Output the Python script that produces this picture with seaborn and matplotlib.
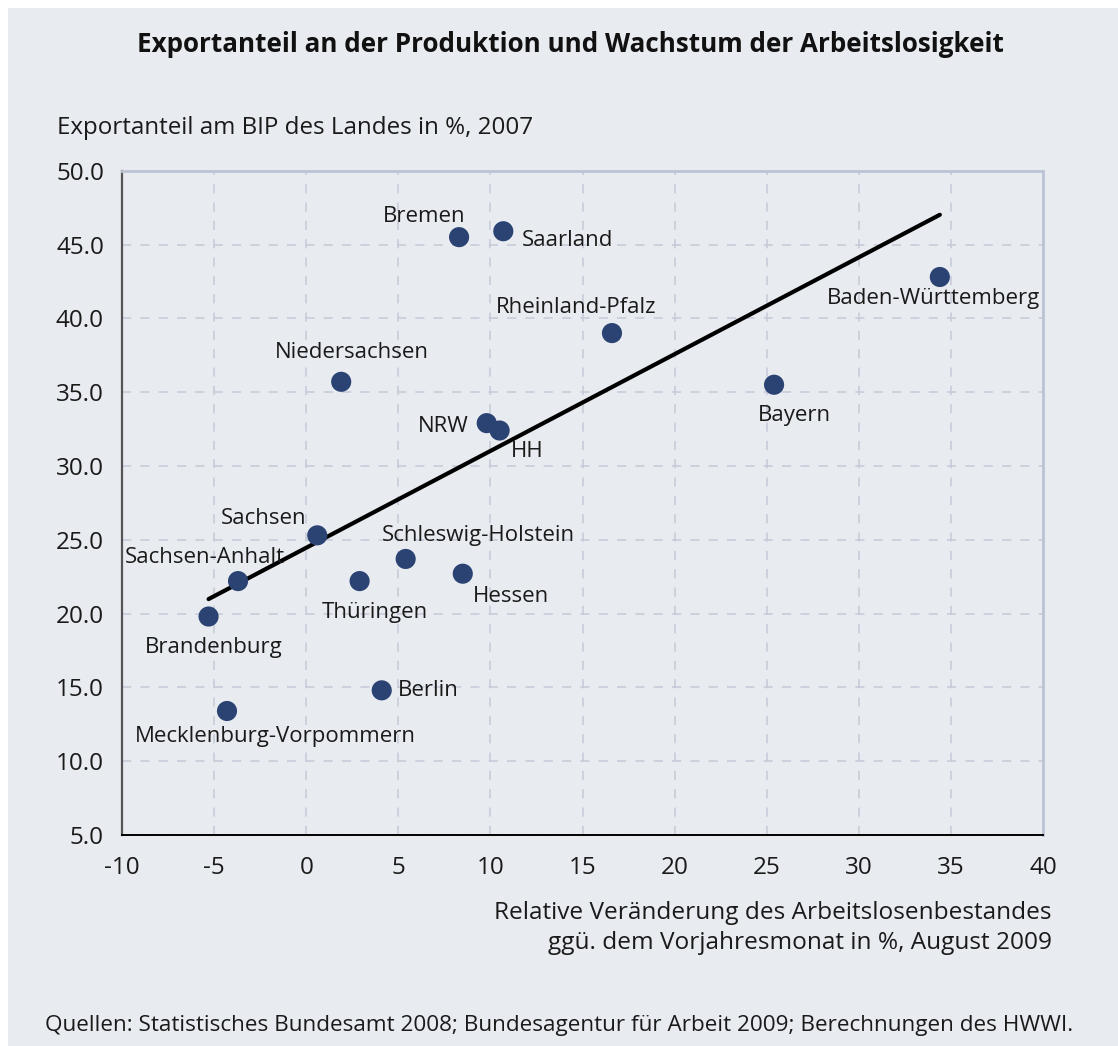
import numpy as np
import pandas as pd
import matplotlib
matplotlib.use("Agg")
import matplotlib.pyplot as plt
from matplotlib.patches import Rectangle
import seaborn as sns

# data
laender = ["Bremen", "Saarland", "Rheinland-Pfalz", "Baden-Württemberg",
           "Niedersachsen", "Bayern", "NRW", "HH", "Sachsen",
           "Schleswig-Holstein", "Hessen", "Sachsen-Anhalt", "Thüringen",
           "Brandenburg", "Berlin", "Mecklenburg-Vorpommern"]
arbeitslose = [8.3, 10.7, 16.6, 34.4, 1.9, 25.4, 9.8, 10.5, 0.6,
               5.4, 8.5, -3.7, 2.9, -5.3, 4.1, -4.3]
exportanteil = [45.5, 45.9, 39.0, 42.8, 35.7, 35.5, 32.9, 32.4, 25.3,
                23.7, 22.7, 22.2, 22.2, 19.8, 14.8, 13.4]

df = pd.DataFrame({"land": laender, "x": arbeitslose, "y": exportanteil})

# label offsets in pixels (dx, dy, ha)
label_pos = {
    "Bremen": (-35, 21, "center"),
    "Saarland": (19, -9, "left"),
    "Rheinland-Pfalz": (-36, 26, "center"),
    "Baden-Württemberg": (-6, -22, "center"),
    "Niedersachsen": (11, 29, "center"),
    "Bayern": (20, -31, "center"),
    "NRW": (-18, -3, "right"),
    "HH": (28, -21, "center"),
    "Sachsen": (-54, 17, "center"),
    "Schleswig-Holstein": (73, 23, "center"),
    "Hessen": (48, -23, "center"),
    "Sachsen-Anhalt": (-33, 24, "center"),
    "Thüringen": (15, -31, "center"),
    "Brandenburg": (5, -31, "center"),
    "Berlin": (16, 0, "left"),
    "Mecklenburg-Vorpommern": (48, -26, "center"),
}

bg = "#e8ebf0"
navy = "#2b4373"

sns.set_style("white")
plt.rcParams["font.family"] = ["Open Sans", "DejaVu Sans"]
plt.rcParams["axes.unicode_minus"] = False

fig = plt.figure(figsize=(11.18, 10.46), dpi=100, facecolor="white")
fig.patches.append(Rectangle((8 / 1118, 0), 1, 1 - 8 / 1046, transform=fig.transFigure,
                             facecolor=bg, edgecolor="none", zorder=-10))
ax = fig.add_axes([122 / 1118, 1 - 835 / 1046, (1043 - 122) / 1118, (835 - 170.7) / 1046])
ax.set_facecolor(bg)

sns.regplot(data=df, x="x", y="y", ax=ax, ci=None,
            scatter_kws=dict(s=210, color=navy, edgecolors="none", alpha=1, zorder=3),
            line_kws=dict(color="black", lw=3, zorder=2))

for _, r in df.iterrows():
    dx, dy, ha = label_pos[r["land"]]
    ax.annotate(r["land"], (r["x"], r["y"]), xytext=(dx, dy), textcoords="offset pixels",
                ha=ha, va="center", fontsize=16, color="#1a1a1a")

ax.set_xlim(-10, 40)
ax.set_ylim(5, 50)
ax.set_xticks(np.arange(-10, 41, 5))
ax.set_yticks(np.arange(5, 51, 5))
ax.set_yticklabels([f"{v:.1f}" for v in np.arange(5, 51, 5)])
ax.tick_params(axis="both", labelsize=17.5, colors="#1a1a1a", length=7, width=1.3,
               direction="out", pad=6)
ax.tick_params(axis="x", pad=8)
ax.grid(True, ls=(0, (6, 6)), color="#c6cad8", lw=1.1)
ax.set_axisbelow(True)

for side in ["top", "right"]:
    ax.spines[side].set_color("#bcc4d4")
    ax.spines[side].set_linewidth(2)
ax.spines["left"].set_color("#555555")
ax.spines["left"].set_linewidth(1.6)
ax.spines["bottom"].set_color("black")
ax.spines["bottom"].set_linewidth(1.4)

ax.set_xlabel("")
ax.set_ylabel("")

fig.text(570 / 1118, 1 - 44 / 1046, "Exportanteil an der Produktion und Wachstum der Arbeitslosigkeit",
         ha="center", va="center", fontsize=18.7, fontweight="bold", color="#111111")
fig.text(57 / 1118, 1 - 128 / 1046, "Exportanteil am BIP des Landes in %, 2007",
         ha="left", va="center", fontsize=17.4, color="#1a1a1a")
fig.text(1052 / 1118, 1 - 928 / 1046,
         "Relative Veränderung des Arbeitslosenbestandes\nggü. dem Vorjahresmonat in %, August 2009",
         ha="right", va="center", fontsize=17.6, color="#1a1a1a", linespacing=1.3)
fig.text(45 / 1118, 1 - 1025 / 1046,
         "Quellen: Statistisches Bundesamt 2008; Bundesagentur für Arbeit 2009; Berechnungen des HWWI.",
         ha="left", va="center", fontsize=16.2, color="#1a1a1a")

fig.savefig("out.png", dpi=100, facecolor="white")
